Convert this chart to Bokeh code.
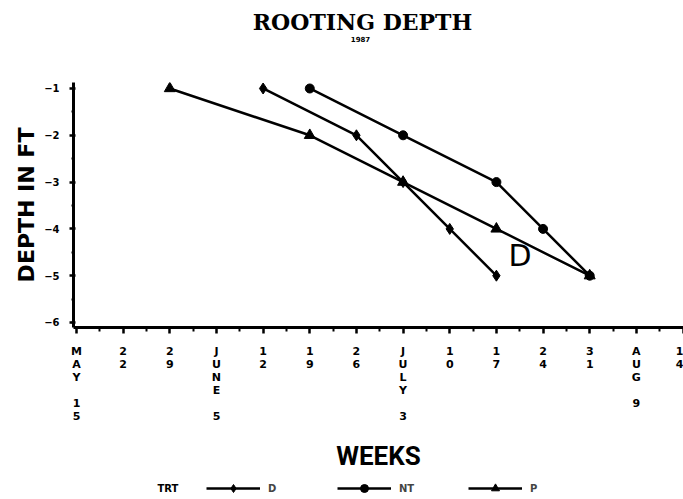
from bokeh.plotting import figure
from bokeh.layouts import column
from bokeh.models import FixedTicker, Label, Legend, LegendItem, Range1d
from bokeh.embed import file_html
from bokeh.resources import INLINE

# Weekly sampling dates (stacked one character per line on the axis)
week_labels = [
    "M\nA\nY\n \n1\n5", "2\n2", "2\n9", "J\nU\nN\nE\n \n5", "1\n2", "1\n9", "2\n6",
    "J\nU\nL\nY\n \n3", "1\n0", "1\n7", "2\n4", "3\n1", "A\nU\nG\n \n9", "1\n4",
]

# Week index (0 = first date) at which each depth was reached, per treatment
week_D = [4, 6, 7, 8, 9]
depth_D = [-1, -2, -3, -4, -5]

week_NT = [5, 7, 9, 10, 11]
depth_NT = [-1, -2, -3, -4, -5]

week_P = [2, 5, 7, 9, 11]
depth_P = [-1, -2, -3, -4, -5]

depth_ticks = [-6, -5, -4, -3, -2, -1]

treatments = ["D", "NT", "P"]
markers = {"D": "diamond", "NT": "circle", "P": "triangle"}
marker_sizes = {"D": 11, "NT": 9, "P": 11}

INK = "black"
FONT = "DejaVu Sans"


def strip(height):
    """A bare figure used as a text/legend band above or below the chart."""
    f = figure(width=683, height=height, x_range=Range1d(0, 1), y_range=Range1d(0, 1),
               x_axis_type=None, y_axis_type=None, output_backend="svg",
               toolbar_location=None, title_location=None, min_border=0,
               background_fill_color="white", border_fill_color="white")
    f.outline_line_color = None
    f.grid.visible = False
    return f


# heading band
head = strip(50)
head.add_layout(Label(x=289, y=29, x_units="screen", y_units="screen", text="ROOTING DEPTH",
                      text_align="center", text_baseline="alphabetic",
                      text_font="DejaVu Serif", text_font_style="bold",
                      text_font_size="22px", text_color=INK))
head.add_layout(Label(x=287, y=12, x_units="screen", y_units="screen", text="1987",
                      text_align="center", text_baseline="alphabetic",
                      text_font=FONT, text_font_style="bold",
                      text_font_size="7px", text_color=INK))

p = figure(
    width=683, height=425,
    x_range=Range1d(-0.064, 13.01), y_range=Range1d(-6.107, -0.872),
    output_backend="svg", toolbar_location=None, title_location=None,
    min_border_left=73, min_border_right=0, min_border_top=32, min_border_bottom=148,
    background_fill_color="white", border_fill_color="white",
)
p.outline_line_color = None
p.grid.visible = False

# x axis: weeks
xa = p.xaxis[0]
xa.ticker = FixedTicker(ticks=list(range(len(week_labels))),
                        minor_ticks=[i + 0.5 for i in range(len(week_labels))])
xa.major_label_overrides = {i: t for i, t in enumerate(week_labels)}
xa.axis_line_width = 3
xa.axis_line_color = INK
xa.major_tick_line_width = 2.5
xa.major_tick_line_color = INK
xa.major_tick_out = 6
xa.major_tick_in = 0
xa.minor_tick_line_width = 2
xa.minor_tick_line_color = INK
xa.minor_tick_out = 4
xa.minor_tick_in = 0
xa.major_label_text_font = FONT
xa.major_label_text_font_style = "bold"
xa.major_label_text_font_size = "11px"
xa.major_label_text_line_height = 1.01
xa.major_label_text_color = INK
xa.major_label_standoff = 11
xa.axis_label = "WEEKS"
xa.axis_label_text_font = "Roboto"
xa.axis_label_text_font_style = "bold"
xa.axis_label_text_font_size = "26px"
xa.axis_label_text_color = INK
xa.axis_label_standoff = 15

# y axis: depth
ya = p.yaxis[0]
ya.ticker = FixedTicker(ticks=depth_ticks, minor_ticks=[d + 0.5 for d in depth_ticks] + [-6.0])
ya.axis_line_width = 3
ya.axis_line_color = INK
ya.major_tick_line_width = 2.5
ya.major_tick_line_color = INK
ya.major_tick_out = 4
ya.major_tick_in = 2
ya.minor_tick_line_width = 2
ya.minor_tick_line_color = INK
ya.minor_tick_out = 2
ya.minor_tick_in = 1
ya.major_label_text_font = FONT
ya.major_label_text_font_style = "bold"
ya.major_label_text_font_size = "10px"
ya.major_label_text_color = INK
ya.major_label_standoff = 10
ya.axis_label = "DEPTH IN FT"
ya.axis_label_text_font = FONT
ya.axis_label_text_font_style = "bold"
ya.axis_label_text_font_size = "22px"
ya.axis_label_text_color = INK
ya.axis_label_standoff = 2

# treatment series
series = {"D": (week_D, depth_D), "NT": (week_NT, depth_NT), "P": (week_P, depth_P)}
for t in treatments:
    wk, dp = series[t]
    p.line(wk, dp, line_color=INK, line_width=2.5)
    p.scatter(wk, dp, marker=markers[t], size=marker_sizes[t], fill_color=INK, line_color=INK)

# hand-written series tag
p.add_layout(Label(x=435, y=72, x_units="screen", y_units="screen", text="D",
                   text_align="left", text_baseline="alphabetic",
                   text_font=FONT, text_font_size="30px", text_color=INK))

# legend band under the chart; its ranges keep the proxy series out of view,
# so only the legend keys show
key = strip(24)
items = []
for t in treatments:
    wk, dp = series[t]
    kl = key.line(wk, dp, line_color=INK, line_width=2.5)
    ks = key.scatter(wk, dp, marker=markers[t], size=marker_sizes[t],
                     fill_color=INK, line_color=INK)
    items.append(LegendItem(label=t, renderers=[kl, ks]))

legend = Legend(
    items=items, orientation="horizontal", location=(133, 1),
    label_text_font=FONT, label_text_font_style="bold", label_text_font_size="10px",
    label_standoff=8, label_width=60, glyph_width=54, glyph_height=20, label_height=20,
    spacing=9, padding=0, margin=0,
    border_line_color=None, background_fill_alpha=0,
)
key.add_layout(legend)
key.add_layout(Label(x=84, y=11, x_units="screen", y_units="screen", text="TRT",
                     text_align="left", text_baseline="middle",
                     text_font=FONT, text_font_style="bold", text_font_size="10px",
                     text_color=INK))

open("out.html", "w").write(file_html(column(head, p, key, spacing=0), INLINE))
